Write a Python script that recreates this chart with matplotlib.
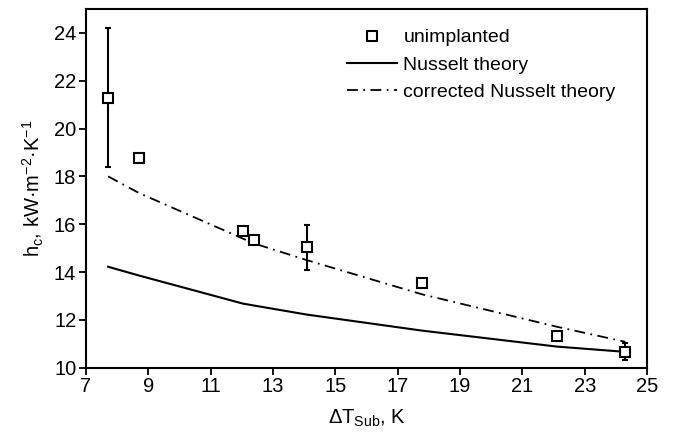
import numpy as np
import matplotlib
matplotlib.use('Agg')
import matplotlib.pyplot as plt

plt.rcParams['font.family'] = ['Liberation Sans', 'DejaVu Sans']
plt.rcParams['mathtext.fontset'] = 'custom'
plt.rcParams['mathtext.rm'] = 'Liberation Sans'

# measured points (unimplanted)
dt_meas = [7.71, 8.71, 12.03, 12.38, 14.08, 17.77, 22.11, 24.30]
hc_meas = [21.3, 18.75, 15.72, 15.36, 15.03, 13.52, 11.33, 10.66]
hc_err_lo = [2.9, 0, 0, 0, 0.95, 0, 0, 0.35]
hc_err_hi = [2.9, 0, 0, 0, 0.95, 0, 0, 0.35]

# theory curves
dt_theory = [7.71, 8.71, 12.03, 12.38, 14.08, 17.77, 22.11, 24.30]
hc_nusselt = [14.22, 13.85, 12.68, 12.60, 12.22, 11.55, 10.88, 10.66]
hc_corrected = [18.0, 17.3, 15.4, 15.2, 14.5, 13.07, 11.71, 11.08]

fig = plt.figure(figsize=(6.74, 4.32), dpi=100)
ax = fig.add_axes([0.1276, 0.149, 0.8324, 0.830])

ax.plot(dt_theory, hc_nusselt, 'k-', lw=1.5, label='Nusselt theory')
ax.plot(dt_theory, hc_corrected, 'k', lw=1.3, dashes=(6, 3, 1, 3), label='corrected Nusselt theory')

# error bars only where present
idx = [i for i in range(len(dt_meas)) if hc_err_hi[i] > 0]
ax.errorbar([dt_meas[i] for i in idx], [hc_meas[i] for i in idx],
            yerr=[[hc_err_lo[i] for i in idx], [hc_err_hi[i] for i in idx]],
            fmt='none', ecolor='k', elinewidth=1.5, capsize=2.2, capthick=1.5)
ax.plot(dt_meas, hc_meas, 's', ms=6.5, mfc='white', mec='k', mew=1.5, ls='none', label='unimplanted')

ax.set_xlim(7, 25)
ax.set_ylim(10, 25)
ax.set_xticks(np.arange(7, 26, 2))
ax.set_yticks(np.arange(10, 25, 2))
ax.tick_params(direction='out', length=5, width=1.3, labelsize=14.5, pad=2)
for s in ax.spines.values():
    s.set_linewidth(1.5)

ax.set_xlabel(r'ΔT$_\mathregular{Sub}$, K', fontsize=14.5, labelpad=8)
ax.set_ylabel(r'h$_\mathregular{c}$, kW·m$^\mathregular{-2}$·K$^\mathregular{-1}$', fontsize=14.5, labelpad=6)

h, l = ax.get_legend_handles_labels()
order = [2, 0, 1]
ax.legend([h[i] for i in order], [l[i] for i in order], loc='upper left',
          frameon=False, fontsize=14, handlelength=2.6, borderaxespad=0, borderpad=0,
          labelspacing=0.5, handletextpad=0.3, bbox_to_anchor=(0.465, 0.945))

fig.savefig('out.png', dpi=100)
